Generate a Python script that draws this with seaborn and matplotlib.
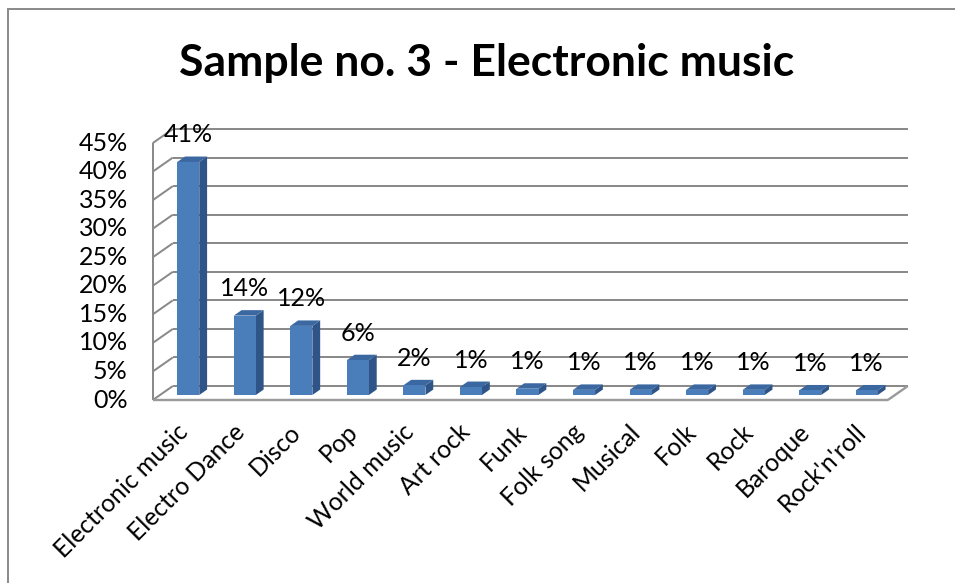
import matplotlib
matplotlib.use("Agg")
import matplotlib.pyplot as plt
import seaborn as sns
import numpy as np
import pandas as pd
from matplotlib.transforms import IdentityTransform
from matplotlib.patches import Polygon, Rectangle
from matplotlib.lines import Line2D

# ---------------- data ----------------
title = "Sample no. 3 - Electronic music"
genres = ["Electronic music", "Electro Dance", "Disco", "Pop", "World music",
          "Art rock", "Funk", "Folk song", "Musical", "Folk", "Rock",
          "Baroque", "Rock'n'roll"]
shares = [40.8, 13.9, 12.1, 6.1, 1.7, 1.4, 1.1, 0.9, 0.9, 0.9, 0.9, 0.8, 0.8]
value_labels = ["41%", "14%", "12%", "6%", "2%", "1%", "1%", "1%", "1%",
                "1%", "1%", "1%", "1%"]
yticks = [0, 5, 10, 15, 20, 25, 30, 35, 40, 45]
ytick_labels = ["0%", "5%", "10%", "15%", "20%", "25%", "30%", "35%", "40%", "45%"]

# ---------------- style ----------------
FRONT = "#4a7ebb"
SIDE = "#2f5487"
TOP = "#3c68a2"
GRID = "#8a8a8a"
TEXT = "#000000"
W, H = 955, 583

sns.set_theme(style="white")
plt.rcParams["font.family"] = ["Lato", "DejaVu Sans"]

fig = plt.figure(figsize=(W / 100, H / 100), dpi=100)
fig.patch.set_facecolor("white")

# axes = plane of the bars' front faces (pixels, image coords)
x0, x1, y0, y45 = 160, 895, 395, 138
ax = fig.add_axes([x0 / W, (H - y0) / H, (x1 - x0) / W, (y0 - y45) / H])
df = pd.DataFrame({"genre": genres, "share": shares})
sns.barplot(data=df, x="genre", y="share", ax=ax, color=FRONT, width=0.39,
            saturation=1, edgecolor="none", zorder=5)
ax.set_xlim(-0.5, len(genres) - 0.5)
ax.set_ylim(0, 45)
ax.axis("off")

DX, DY = 20.0, 14.0          # full depth offset in pixels
D_FRONT = -0.36              # front plane depth relative to bar face
D_BACK = 1 - 0.36            # back wall
D_BAR = 0.39                 # bar depth

def to_px(x, y, d):
    p = ax.transData.transform((x, y))
    return (p[0] + DX * d, p[1] + DY * d)

def line(p, q, lw=2.0, color=GRID, z=1):
    ax.add_line(Line2D([p[0], q[0]], [p[1], q[1]], transform=IdentityTransform(),
                       color=color, lw=lw * 0.72, clip_on=False, zorder=z,
                       solid_capstyle="butt"))

xl_, xr_ = -0.5, len(genres) - 0.5
# back wall gridlines + left wall diagonals
for t in yticks:
    line(to_px(xl_, t, D_BACK), to_px(xr_, t, D_BACK))
    line(to_px(xl_, t, D_FRONT), to_px(xl_, t, D_BACK))
# front vertical axis
line(to_px(xl_, 0, D_FRONT), to_px(xl_, 45, D_FRONT))
# floor edges
line(to_px(xl_, 0, D_FRONT), to_px(xr_, 0, D_FRONT), lw=2.4, color="#9a9a9a")
line(to_px(xr_, 0, D_FRONT), to_px(xr_, 0, D_BACK), lw=2.4, color="#9a9a9a")

# 3D faces derived from seaborn's bars
for p, lab in zip(list(ax.patches), value_labels):
    bl, bw, v = p.get_x(), p.get_width(), p.get_height()
    br = bl + bw
    side = [to_px(br, 0, 0), to_px(br, v, 0), to_px(br, v, D_BAR), to_px(br, 0, D_BAR)]
    top = [to_px(bl, v, 0), to_px(br, v, 0), to_px(br, v, D_BAR), to_px(bl, v, D_BAR)]
    ax.add_patch(Polygon(side, closed=True, transform=IdentityTransform(),
                         facecolor=SIDE, edgecolor="none", clip_on=False, zorder=4))
    ax.add_patch(Polygon(top, closed=True, transform=IdentityTransform(),
                         facecolor=TOP, edgecolor="none", clip_on=False, zorder=4))
    ax.annotate(lab, xy=(bl + bw / 2, v), xycoords="data", xytext=(0, 27),
                textcoords="offset pixels", ha="center", va="center",
                fontsize=18, color=TEXT, annotation_clip=False, zorder=6)

# y tick labels
for t, lab in zip(yticks, ytick_labels):
    ax.annotate(lab, xy=(xl_, t), xycoords="data",
                xytext=(DX * D_FRONT - 25, DY * D_FRONT), textcoords="offset pixels",
                ha="right", va="center", fontsize=18, color=TEXT,
                annotation_clip=False)

# category labels
for i, g in enumerate(genres):
    ax.annotate(g, xy=(i, 0), xycoords="data",
                xytext=(DX * D_FRONT + 3, DY * D_FRONT - 28), textcoords="offset pixels",
                ha="right", va="center", rotation=45, rotation_mode="anchor",
                fontsize=17.8, color=TEXT, annotation_clip=False)

# title
fig.text(487 / W, 1 - 63 / H, title, ha="center", va="center",
         fontsize=32, fontweight="bold", color="#000000")

# chart frame
fig.add_artist(Rectangle((8 / W, -0.05), 1.1, 1 - 9 / H + 0.05, transform=fig.transFigure,
                         facecolor="none", edgecolor="#8c8c8c", lw=2.0 * 0.72,
                         clip_on=False))

fig.savefig("out.png", dpi=100, facecolor="white")
